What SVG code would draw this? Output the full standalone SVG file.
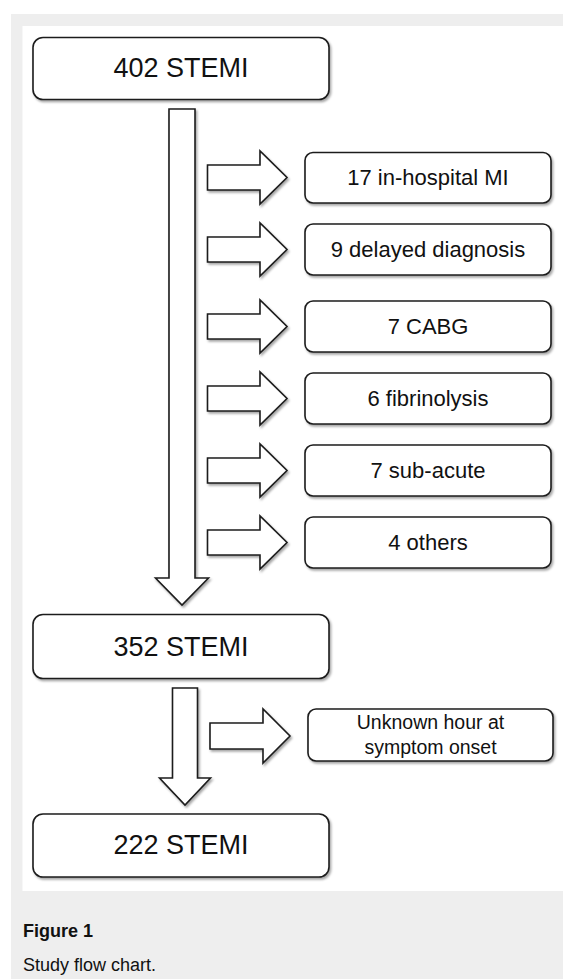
<svg xmlns="http://www.w3.org/2000/svg" width="563" height="979" viewBox="0 0 563 979">
<defs>
<filter id="sh" x="-10%" y="-10%" width="130%" height="140%">
<feDropShadow dx="1.5" dy="2" stdDeviation="1.2" flood-color="#000" flood-opacity="0.35"/>
</filter>
<style>
.bx{fill:#fff;stroke:#1c1c1c;stroke-width:1.6;filter:url(#sh)}
.ar{fill:#fff;stroke:#1c1c1c;stroke-width:1.6;stroke-linejoin:miter;filter:url(#sh)}
.big{font-family:"Liberation Sans",Arial,sans-serif;font-size:27px;fill:#111;text-anchor:middle}
.sm{font-family:"Liberation Sans",Arial,sans-serif;font-size:22px;fill:#111;text-anchor:middle}
.xs{font-family:"Liberation Sans",Arial,sans-serif;font-size:19.5px;fill:#111;text-anchor:middle}
.cap{font-family:"Liberation Sans",Arial,sans-serif;font-size:18px;fill:#111}
</style>
</defs>
<rect x="0" y="0" width="563" height="979" fill="#fff"/>
<rect x="11" y="14" width="552" height="965" fill="#eeeeee"/>
<rect x="22.5" y="26" width="540.5" height="865" fill="#fff"/>

<g id="connectors">
<path class="ar" d="M169,109 H195 V578 H208.5 L182,605 L155.5,578 H169 Z"/>
<path class="ar" d="M207.5,165 H260 V151 L287,177.5 L260,204 V190 H207.5 Z"/>
<path class="ar" d="M207.5,237 H260 V223 L287,249.5 L260,276 V262 H207.5 Z"/>
<path class="ar" d="M207.5,314 H260 V300 L287,326.5 L260,353 V339 H207.5 Z"/>
<path class="ar" d="M207.5,386 H260 V372 L287,398.5 L260,425 V411 H207.5 Z"/>
<path class="ar" d="M207.5,458 H260 V444 L287,470.5 L260,497 V483 H207.5 Z"/>
<path class="ar" d="M207.5,530 H260 V516 L287,542.5 L260,569 V555 H207.5 Z"/>
<path class="ar" d="M172.5,688 H197.5 V778 H210.5 L185,805 L159.5,778 H172.5 Z"/>
<path class="ar" d="M210,723 H263 V709 L290,736 L263,763 V749 H210 Z"/>
</g>

<g id="n402">
<rect class="bx" x="33" y="37.5" width="296" height="62" rx="10"/>
<text class="big" x="181" y="77">402 STEMI</text>
</g>
<g id="n17">
<rect class="bx" x="305" y="152.5" width="246" height="50.5" rx="8"/>
<text class="sm" x="428" y="185">17 in-hospital MI</text>
</g>
<g id="n9">
<rect class="bx" x="305" y="224" width="246" height="51" rx="8"/>
<text class="sm" x="428" y="257">9 delayed diagnosis</text>
</g>
<g id="n7cabg">
<rect class="bx" x="305" y="301" width="246" height="51" rx="8"/>
<text class="sm" x="428" y="334">7 CABG</text>
</g>
<g id="n6">
<rect class="bx" x="305" y="373" width="246" height="51" rx="8"/>
<text class="sm" x="428" y="406">6 fibrinolysis</text>
</g>
<g id="n7sub">
<rect class="bx" x="305" y="445" width="246" height="51" rx="8"/>
<text class="sm" x="428" y="478">7 sub-acute</text>
</g>
<g id="n4">
<rect class="bx" x="305" y="517" width="246" height="51" rx="8"/>
<text class="sm" x="428" y="550">4 others</text>
</g>
<g id="n352">
<rect class="bx" x="33" y="614.5" width="296" height="64" rx="10"/>
<text class="big" x="181" y="655.5">352 STEMI</text>
</g>
<g id="nunknown">
<rect class="bx" x="308" y="709" width="245" height="52" rx="8"/>
<text class="xs" x="430.5" y="728.5">Unknown hour at</text>
<text class="xs" x="430.5" y="753.5">symptom onset</text>
</g>
<g id="n222">
<rect class="bx" x="33" y="814" width="296" height="63" rx="10"/>
<text class="big" x="181" y="854">222 STEMI</text>
</g>

<text class="cap" x="23" y="937" font-weight="bold">Figure 1</text>
<text class="cap" x="23" y="971">Study flow chart.</text>
</svg>
